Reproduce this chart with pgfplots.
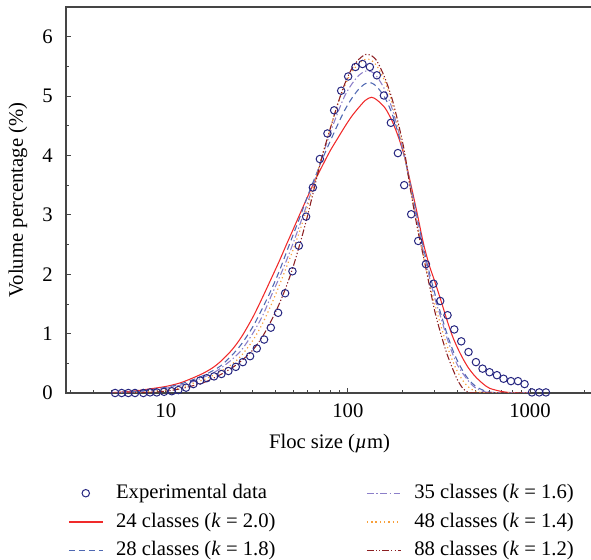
\documentclass[border=0pt]{standalone}
\usepackage{fontspec}
\setmainfont{Liberation Serif}
\usepackage{pgfplots}
\usepackage{pgfplotstable}
\pgfplotsset{compat=1.18}
\definecolor{expc}{HTML}{262680}
\definecolor{c24}{HTML}{F02A2A}
\definecolor{c28}{HTML}{4F68B2}
\definecolor{c35}{HTML}{8C7FC9}
\definecolor{c48}{HTML}{F7A03C}
\definecolor{c88}{HTML}{8C1F22}
\definecolor{axc}{HTML}{454545}
\pgfplotsset{
  mylegline/.style={legend image code/.code={\draw[##1] (0pt,0pt) -- (25.5pt,0pt);}},
  mylegcirc/.style={legend image code/.code={\draw[mark repeat=2,mark phase=2,##1] plot coordinates {(0pt,0pt) (12.75pt,0pt) (25.5pt,0pt)};}},
}

\pgfplotstableread{
x y
5.27 0.00
5.73 0.00
6.23 0.00
6.78 0.00
7.53 0.00
8.20 0.01
8.92 0.01
9.79 0.02
10.79 0.03
11.73 0.05
12.93 0.09
14.18 0.15
15.44 0.21
16.80 0.25
18.42 0.28
20.21 0.32
22.08 0.37
24.25 0.44
26.49 0.52
29.05 0.62
31.62 0.75
34.69 0.90
37.76 1.10
41.40 1.35
45.25 1.68
49.62 2.05
53.81 2.48
59.00 2.97
64.24 3.46
70.19 3.94
77.25 4.37
84.10 4.76
91.89 5.09
100.4 5.33
110.1 5.49
120.3 5.54
132.1 5.49
144.3 5.35
157.7 5.01
172.3 4.55
188.3 4.04
203.9 3.50
222.7 3.01
243.4 2.56
268.3 2.17
295.3 1.84
321.5 1.55
352.6 1.31
383.9 1.07
419.4 0.87
459.8 0.69
505.1 0.52
549.0 0.41
599.8 0.35
658.7 0.30
716.0 0.24
786.3 0.20
859.5 0.20
933.9 0.15
1025.6 0.01
1125 0.01
1224 0.01
}\expdata

\pgfplotstableread{
x red blue purple orange dkred
5 0.005 0.003 0.002 0.001 0
6 0.02 0.015 0.01 0.005 0
7 0.04 0.03 0.02 0.012 0.005
8 0.065 0.05 0.035 0.022 0.01
10 0.11 0.095 0.08 0.05 0.03
12 0.17 0.15 0.13 0.09 0.07
14 0.25 0.22 0.19 0.16 0.12
16 0.33 0.29 0.26 0.22 0.17
18 0.42 0.37 0.33 0.29 0.24
20 0.53 0.455 0.415 0.365 0.31
23 0.72 0.63 0.56 0.48 0.42
26 0.94 0.82 0.72 0.63 0.54
30 1.27 1.11 1.00 0.88 0.72
34 1.61 1.43 1.30 1.17 0.95
38 1.93 1.74 1.64 1.49 1.22
42 2.22 2.05 1.94 1.81 1.50
46 2.50 2.37 2.23 2.12 1.80
50 2.75 2.66 2.52 2.41 2.12
55 3.04 2.99 2.87 2.77 2.55
60 3.30 3.31 3.20 3.14 2.98
66 3.58 3.63 3.58 3.56 3.50
72 3.81 3.92 3.96 3.98 3.97
80 4.08 4.24 4.38 4.45 4.45
88 4.29 4.52 4.72 4.86 4.87
96 4.48 4.76 5.00 5.17 5.20
105 4.66 4.96 5.20 5.40 5.46
115 4.81 5.12 5.35 5.55 5.62
125 4.93 5.21 5.42 5.62 5.70
135 4.98 5.22 5.41 5.60 5.68
145 4.93 5.15 5.32 5.50 5.58
160 4.80 4.97 5.10 5.24 5.30
175 4.58 4.70 4.79 4.88 4.95
190 4.30 4.35 4.40 4.45 4.52
205 3.97 3.97 3.97 3.99 4.05
220 3.56 3.53 3.50 3.47 3.45
240 3.03 2.97 2.90 2.83 2.80
260 2.52 2.45 2.38 2.30 2.30
280 2.15 2.03 1.96 1.86 1.82
300 1.88 1.68 1.60 1.50 1.38
325 1.55 1.32 1.26 1.12 0.98
350 1.23 1.00 0.93 0.80 0.66
375 0.96 0.74 0.67 0.55 0.42
400 0.76 0.54 0.47 0.36 0.22
430 0.57 0.36 0.32 0.20 0.07
460 0.42 0.23 0.20 0.10 0.01
500 0.28 0.12 0.09 0.03 0
550 0.16 0.05 0.03 0.005 0
600 0.08 0.015 0.008 0 0
700 0.025 0.002 0 0 0
800 0.005 0 0 0 0
1000 0 0 0 0 0
}\modeldata

\begin{document}
\fontsize{15.5}{18.5}\selectfont
\begin{tikzpicture}
\useasboundingbox (0,0) rectangle (443.25pt,419.25pt);
\begin{axis}[
  at={(49.5pt,124.5pt)}, anchor=south west,
  scale only axis, width=395.25pt, height=289.5pt,
  xmode=log, xmin=2.833, xmax=2219, ymin=0, ymax=6.5,
  ytick={0,1,2,3,4,5,6},
  minor ytick={0.5,1.5,2.5,3.5,4.5,5.5},
  xtick={10,100,1000}, xticklabels={10,100,1000},
  minor xtick={3,4,5,6,7,8,9,20,30,40,50,60,70,80,90,200,300,400,500,600,700,800,900,2000},
  tick align=inside, tick pos=left,
  major tick length=4pt, minor tick length=2.2pt,
  axis line style={draw=axc, line width=1pt},
  every tick/.style={axc, line width=0.6pt},
  /pgf/number format/assume math mode=true,
  yticklabel style={inner sep=0pt, anchor=east, xshift=-9.75pt},
  xticklabel style={inner sep=0pt, anchor=north, yshift=-8pt},
  every axis x label/.style={at={(axis description cs:0.5,-0.132)}, anchor=center},
  every axis y label/.style={at={(axis description cs:-0.0911,0.5)}, rotate=90, anchor=center},
  xlabel={Floc size (\textit{µ}m)},
  ylabel={Volume percentage (\%)},
  legend columns=2,
  legend cell align=left,
  legend style={at={(axis description cs:0.004,-0.236)}, anchor=north west,
    draw=none, fill=none, inner sep=0pt, outer sep=0pt, row sep=7.8pt,
    nodes={inner sep=0pt, text height=10.7pt, text depth=3pt},
    /tikz/every odd column/.style={column sep=9.5pt},
    /tikz/every even column/.style={column sep=68pt}},
]
\addplot[only marks, mark=o, mark size=2.8pt, expc, mark options={line width=0.75pt}, forget plot] table[x=x,y=y] {\expdata};
\addplot[c24, line width=0.8pt, smooth, forget plot] table[x=x,y=red] {\modeldata};
\addplot[c28, line width=0.8pt, smooth, dash pattern=on 4.5pt off 3pt, forget plot] table[x=x,y=blue] {\modeldata};
\addplot[c35, line width=0.8pt, smooth, dash pattern=on 5pt off 2pt on 1pt off 2pt, forget plot] table[x=x,y=purple] {\modeldata};
\addplot[c48, line width=0.9pt, smooth, dash pattern=on 0.9pt off 2.2pt, forget plot] table[x=x,y=orange] {\modeldata};
\addplot[c88, line width=0.8pt, smooth, dash pattern=on 5pt off 1.6pt on 0.9pt off 1.6pt on 0.9pt off 1.6pt, forget plot] table[x=x,y=dkred] {\modeldata};

\addlegendimage{mylegcirc, only marks, mark=o, mark size=2.8pt, draw=expc, mark options={draw=expc, line width=0.75pt}}
\addlegendentry{Experimental data}
\addlegendimage{mylegline, draw=c35, line width=1pt, dash pattern=on 5pt off 2pt on 1pt off 2pt}
\addlegendentry{35 classes (\textit{k} = 1.6)}
\addlegendimage{mylegline, draw=c24, line width=1pt}
\addlegendentry{24 classes (\textit{k} = 2.0)}
\addlegendimage{mylegline, draw=c48, line width=1.1pt, dash pattern=on 1pt off 2.2pt}
\addlegendentry{48 classes (\textit{k} = 1.4)}
\addlegendimage{mylegline, draw=c28, line width=1pt, dash pattern=on 4.5pt off 3pt}
\addlegendentry{28 classes (\textit{k} = 1.8)}
\addlegendimage{mylegline, draw=c88, line width=1pt, dash pattern=on 5pt off 1.6pt on 0.9pt off 1.6pt on 0.9pt off 1.6pt}
\addlegendentry{88 classes (\textit{k} = 1.2)}
\end{axis}
\end{tikzpicture}
\end{document}
